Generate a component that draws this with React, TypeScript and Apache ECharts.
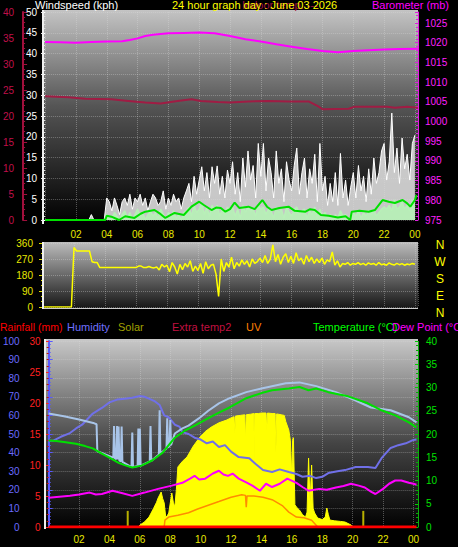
import React, { useEffect, useRef } from "react";
import * as echarts from "echarts";

// ---------- DATA ----------
const hourTicks = ["02", "04", "06", "08", "10", "12", "14", "16", "18", "20", "22", "00"];

// 10-minute samples, index i -> hour i/6
const gust10 = [
  0, 0, 0, 0, 0, 0, 0, 0, 0, 0, 0, 0, 0, 0, 0, 0, 0, 0, 1.3, 0, 0, 0, 0, 0,
  5.3, 4.4, 2.2, 5.3, 3.5, 1.3, 4.4, 5.3, 3.5, 6.2, 2.6, 5.3,
  4.4, 6.2, 3.5, 5.3, 2.2, 4.4, 6.2, 5.3, 3.5, 4.4, 7.0, 2.6,
  5.3, 3.5, 6.2, 4.4, 5.3, 2.6, 5.3, 7.0, 8.8, 4.4, 10.5, 6.2,
  9.6, 12.8, 7.0, 11.4, 5.3, 12.8, 8.8, 13.0, 6.2, 10.5, 5.3, 12.0,
  8.8, 14.0, 6.2, 11.4, 4.4, 14.9, 7.9, 16.6, 9.6, 13.1, 5.3, 18.4,
  10.5, 18.4, 7.0, 14.9, 11.4, 5.3, 16.6, 8.8, 12.3, 4.4, 14.0, 9.6,
  7.0, 13.1, 17.3, 6.2, 11.4, 14.9, 5.3, 12.3, 8.8, 15.8, 4.4, 18.4,
  7.0, 10.5, 3.5, 8.8, 4.4, 11.4, 3.5, 16.0, 5.3, 9.6, 3.5, 7.9,
  11.4, 5.3, 13.1, 7.0, 10.5, 4.4, 12.3, 6.2, 14.9, 8.8, 11.4, 16.6,
  18.4, 9.6, 14.0, 25.7, 11.4, 17.3, 8.8, 19.7, 12.3, 15.8, 9.6, 18.4,
  20.4,
];
const speed10 = [
  0, 0, 0, 0, 0, 0, 0, 0, 0, 0, 0, 0, 0, 0, 0, 0, 0, 0, 0, 0, 0, 0, 0, 0,
  1.3, 0.4, 0, 1.8, 0.9, 0, 1.3, 2.2, 0.4, 1.8, 0, 1.3,
  2.6, 0.9, 1.8, 0, 1.3, 2.2, 0.9, 1.8, 0.4, 2.6, 1.3, 0,
  1.8, 0.9, 2.2, 0.4, 1.3, 0, 1.8, 2.2, 3.1, 0.9, 3.5, 1.8,
  2.6, 4.0, 1.3, 3.1, 0.9, 3.5, 2.2, 3.5, 0.9, 2.6, 1.3, 3.1,
  2.2, 3.1, 0.9, 2.6, 0.4, 3.5, 1.8, 3.1, 2.2, 2.6, 0.9, 3.5,
  2.6, 3.1, 1.3, 2.6, 2.2, 0.4, 3.1, 1.8, 2.6, 0.4, 3.1, 1.8,
  0.9, 2.6, 3.1, 1.3, 2.2, 2.6, 0.4, 2.2, 1.3, 3.1, 0.4, 2.6,
  0.9, 1.8, 0.4, 1.3, 0, 1.3, 0.4, 2.2, 0.9, 1.3, 0, 0.9,
  1.8, 0.9, 2.2, 0.4, 1.8, 0.9, 2.2, 1.3, 2.6, 0.9, 1.8, 2.6,
  3.1, 2.6, 3.5, 2.2, 4.8, 2.6, 3.1, 4.4, 2.6, 3.5, 2.2, 4.8,
  4.4,
];
const windDir10 = [
  0, 0, 0, 0, 0, 0, 0, 0, 0, 0, 0, 0,
  335, 315, 315, 315, 315, 315, 315, 255, 250, 250, 222, 222,
  222, 222, 222, 222, 222, 222, 222, 222, 222, 222, 222, 222,
  222, 230, 230, 222, 222, 228, 222, 220, 225, 208, 240, 225,
  235, 198, 250, 225, 185, 240, 210, 245, 225, 260, 200, 230,
  205, 245, 190, 255, 215, 235, 240, 185, 60, 270, 200, 250,
  225, 280, 215, 250, 230, 265, 240, 260, 225, 270, 245, 255,
  275, 250, 290, 245, 270, 350, 255, 295, 240, 280, 300, 250,
  285, 245, 305, 260, 275, 240, 290, 255, 280, 245, 270, 250,
  275, 240, 265, 255, 310, 235, 260, 225, 245, 240, 250, 235,
  245, 240, 250, 238, 245, 235, 248, 240, 245, 235, 250, 238,
  242, 235, 248, 240, 236, 245, 238, 244, 235, 242, 238, 245,
  240,
];
// [hour, value]
const avgWind = [
  [0, 0], [3.9, 0], [4.0, 1.0], [4.3, 0.8], [4.8, 0], [5.2, 0.9], [5.8, 0.5], [6.2, 1.5], [6.5, 2.0],
  [7.1, 2.4], [7.5, 1.4], [7.8, 0.5], [8.4, 1.7], [9.0, 1.2], [9.5, 3.2], [10.0, 4.4], [10.3, 3.6],
  [10.8, 2.4], [11.1, 3.0], [11.4, 2.9], [11.7, 2.0], [12.0, 2.6], [12.3, 4.2], [12.6, 2.9], [13.2, 3.2],
  [13.6, 2.6], [14.1, 4.8], [14.4, 3.2], [14.7, 2.4], [15.2, 2.9], [15.8, 3.2], [16.2, 2.2], [16.9, 2.0],
  [17.2, 2.6], [17.5, 2.4], [17.9, 1.2], [18.4, 1.0], [19.0, 0.6], [19.5, 0.9], [19.8, 0], [19.9, 2.0],
  [20.4, 2.2], [21.0, 2.0], [21.4, 2.4], [21.9, 4.8], [22.3, 4.4], [22.7, 4.1], [23.2, 4.8], [23.5, 4.0],
  [23.7, 3.2], [24.0, 4.8], [24.1, 6.0],
];
const barometer = [
  [0, 1020.2], [1, 1020.1], [2, 1020.0], [3, 1020.2], [4, 1020.3], [5, 1020.4], [5.5, 1020.7], [6, 1021.1],
  [6.5, 1021.7], [7, 1022.0], [8, 1022.4], [9, 1022.5], [10, 1022.6], [11, 1022.4], [12, 1021.7], [13, 1020.9],
  [14, 1020.3], [15, 1019.6], [16, 1019.0], [17, 1018.4], [18, 1017.9], [19, 1017.6], [20, 1017.9],
  [21, 1018.1], [22, 1018.3], [23, 1018.4], [24.2, 1018.5],
];
const indoorTemp = [
  [0, 23.8], [1.5, 23.6], [2.6, 23.3], [4.3, 23.2], [5.4, 22.9], [6.5, 22.6], [7.5, 22.4], [8.6, 22.9],
  [9.5, 23.2], [10.1, 22.9], [11.2, 22.7], [12.0, 22.6], [13.2, 22.8], [14.5, 22.9], [15.8, 22.8],
  [17.1, 22.8], [17.7, 21.9], [18.0, 21.3], [19.7, 21.4], [20.1, 21.8], [22.2, 21.8], [22.7, 21.6],
  [23.5, 21.8], [24.2, 21.6],
];
const solar = [
  [5.9, 0], [6.0, 16], [6.3, 40], [6.6, 80], [6.9, 150], [7.1, 200], [7.2, 234], [7.4, 282], [7.5, 230],
  [7.6, 194], [7.7, 80], [7.8, 90], [7.9, 113], [8.1, 274], [8.2, 200], [8.3, 161], [8.4, 300], [8.5, 484],
  [8.8, 530], [9.1, 564], [9.5, 650], [9.9, 717], [10.3, 770], [10.7, 806], [11.2, 840], [11.7, 862],
  [12.0, 880], [12.2, 890], [12.25, 760], [12.3, 895], [12.6, 900], [12.9, 905], [12.95, 700], [13.0, 905],
  [13.3, 910], [13.5, 915], [13.52, 540], [13.56, 915], [13.8, 915], [14.0, 919], [14.3, 919], [14.35, 780],
  [14.4, 919], [14.7, 915], [14.9, 915], [14.95, 600], [15.0, 912], [15.3, 905], [15.5, 900], [15.6, 850],
  [15.8, 782], [15.9, 700], [16.0, 400], [16.05, 700], [16.1, 720], [16.2, 180], [16.3, 161], [16.5, 137],
  [16.7, 100], [16.9, 80], [17.0, 120], [17.1, 556], [17.2, 200], [17.3, 500], [17.4, 150], [17.5, 113],
  [17.7, 72], [18.0, 60], [18.2, 80], [18.3, 153], [18.4, 100], [18.5, 56], [18.8, 50], [19.2, 45],
  [19.5, 40], [19.9, 16], [20.0, 0],
];
const solarMarks = [[5.2, 130], [20.7, 130]];
const uvIndex = [
  [0, 0], [7.6, 0], [7.65, 1.1], [7.9, 1.6], [8.5, 1.9], [9.2, 2.3], [9.8, 2.9], [10.5, 3.5], [11.2, 4.1],
  [12.0, 4.8], [12.7, 5.2], [12.95, 5.1], [13.0, 3.2], [13.05, 5.0], [13.5, 5.0], [14.1, 4.8], [14.7, 4.4],
  [15.4, 3.4], [15.8, 2.4], [16.3, 1.6], [16.8, 1.5], [17.3, 1.1], [17.6, 0.3], [17.7, 0],
];
const rainfall = [[0, 0], [24.2, 0]];
const humidity = [
  [0, 46.5], [0.3, 46.4], [0.8, 48.5], [1.4, 50.5], [1.8, 53], [2.2, 55], [2.9, 61], [3.5, 64], [4.0, 67],
  [4.5, 68.5], [5.0, 69], [5.5, 69.5], [6.0, 70.4], [6.3, 70], [6.6, 69], [7.0, 67.5], [7.3, 65.6],
  [7.6, 60], [7.9, 59], [8.3, 55], [8.6, 54], [8.8, 51], [9.2, 50], [9.6, 48], [10.0, 47], [10.4, 45],
  [10.8, 46], [11.2, 43], [11.6, 44], [12.0, 40.5], [12.5, 37.6], [13.2, 37], [13.6, 34], [14.1, 30.6],
  [14.7, 29.6], [15.2, 31], [15.8, 29.6], [16.3, 28.5], [16.7, 27], [17.2, 27.5], [17.6, 26.3], [18.0, 27],
  [18.4, 29], [19.0, 30], [19.5, 30.6], [20.2, 32.3], [21.0, 32.3], [21.5, 31.7], [21.9, 37], [22.5, 42.5],
  [23.0, 44], [23.5, 45], [24.0, 46.8], [24.2, 47],
];
const feelsLike = [
  [0, 24.4], [1, 23.8], [2, 23.1], [3, 22.3], [3.15, 22.1], [3.2, 16.3], [4.25, 14.9], [4.3, 21.7],
  [4.35, 14.8], [4.45, 14.6], [4.5, 21.7], [4.55, 14.5], [4.6, 21.6], [4.65, 14.3], [4.75, 14.1],
  [4.8, 21.6], [4.85, 14.0], [5.45, 12.9], [5.5, 20.3], [5.55, 12.9], [5.85, 13.1], [5.9, 21.2],
  [5.95, 13.1], [6.0, 21.2], [6.05, 13.2], [6.65, 14.1], [6.7, 21.7], [6.75, 14.2], [7.25, 15.6],
  [7.3, 25.1], [7.35, 15.8], [7.75, 16.9], [7.8, 23.4], [7.85, 17.1], [7.95, 17.4], [8.0, 23.0],
  [8.05, 17.6], [8.3, 20.1], [8.8, 21.2], [9.2, 21.8], [9.9, 23.4], [10.5, 25.0], [11.2, 26.6],
  [11.9, 27.7], [13, 29.0], [14, 29.8], [15.6, 30.9], [16.5, 31.1], [17.6, 30.3], [18.9, 29.0],
  [20.2, 27.2], [21.2, 25.7], [22.5, 25.1], [23.7, 23.6], [24.2, 22.5],
];
const temperature = [
  [0, 18.6], [0.5, 18.5], [1, 18.3], [1.8, 17.9], [2.4, 17.4], [2.9, 16.9], [3.5, 15.8], [4.0, 14.9],
  [4.6, 13.8], [5.0, 13.3], [5.5, 12.8], [6.1, 13.2], [6.8, 14.3], [7.5, 16.0], [7.9, 17.6], [8.3, 19.2],
  [9.0, 20.8], [9.6, 21.8], [10.0, 22.5], [10.5, 23.4], [11.2, 24.6], [11.9, 25.7], [12.5, 26.8],
  [13, 27.7], [14, 28.8], [14.7, 29.4], [15.8, 29.8], [16.5, 30.1], [17.1, 29.4], [17.6, 29.8],
  [18.4, 29.0], [19.7, 28.1], [21.0, 26.6], [21.9, 25.1], [22.8, 24.0], [23.7, 22.5], [24.2, 21.4],
];
const dewPoint = [
  [0, 6.3], [0.7, 6.5], [1.4, 6.7], [2.0, 7.0], [2.7, 7.4], [3.1, 7.0], [3.5, 7.1], [4.2, 7.8], [4.8, 7.3],
  [5.5, 6.7], [6.3, 7.4], [7.2, 8.2], [8.1, 8.9], [8.8, 9.5], [9.3, 10.4], [9.6, 11.0], [9.9, 10.2],
  [10.3, 10.4], [10.8, 11.5], [11.2, 12.1], [11.5, 11.3], [11.8, 11.0], [12.1, 11.5], [12.5, 10.4],
  [13.0, 9.6], [13.4, 8.9], [13.9, 7.8], [14.3, 9.3], [14.7, 8.6], [15.2, 9.3], [15.7, 10.4], [16.3, 9.5],
  [16.7, 8.6], [17.1, 7.8], [17.8, 8.2], [18.3, 8.0], [18.9, 8.5], [19.4, 8.8], [19.9, 9.3], [20.4, 8.9],
  [20.8, 8.5], [21.2, 7.6], [21.5, 7.1], [22.0, 8.2], [22.4, 9.3], [22.8, 10.0], [23.2, 10.0], [23.7, 9.5],
  [24.0, 9.3], [24.2, 9.1],
];
const compassLetters = ["N", "W", "S", "E", "N"];

// ---------- CHART ----------
const FONT = "'Liberation Sans', Arial, sans-serif";
const toPairs = (arr: number[]) => arr.map((v, i) => [i / 6, v]);
const plain = (v: number) => String(v);

function hourLabel(v: number) {
  if (v === 0) return "";
  const i = Math.round(v / 2) - 1;
  return hourTicks[i] ?? "";
}

function gradientRect(x: number, y: number, w: number, h: number, stops: [number, string][]) {
  return {
    type: "rect",
    z: -10,
    shape: { x, y, width: w, height: h },
    style: {
      fill: new echarts.graphic.LinearGradient(
        0, 0, 0, 1,
        stops.map(([offset, color]) => ({ offset, color }))
      ),
    },
    silent: true,
  };
}

function txt(text: string, x: number, y: number, fill: string, size = 11, align = "left") {
  return {
    type: "text",
    z: 100,
    x,
    y,
    style: { text, fill, font: `${size}px ${FONT}`, textAlign: align, textVerticalAlign: "middle" },
    silent: true,
  };
}

const dotted = { show: true, lineStyle: { color: "rgba(220,220,220,0.35)", type: "dotted", width: 1 } };

function buildOption() {
  const xBase = (gridIndex: number, max: number, showLabel: boolean, margin: number) => ({
    type: "value",
    gridIndex,
    min: 0,
    max,
    interval: 2,
    axisLine: { show: false },
    axisTick: { show: false },
    axisLabel: {
      show: showLabel,
      color: "#e8e800",
      fontSize: 10,
      fontFamily: FONT,
      margin,
      showMaxLabel: false,
      showMinLabel: false,
      formatter: hourLabel,
    },
    splitLine: dotted,
  });

  return {
    animation: false,
    backgroundColor: "#000",
    textStyle: { fontFamily: FONT },
    grid: [
      { left: 43, top: 12, width: 375, height: 208 },
      { left: 43, top: 243, width: 375, height: 64 },
      { left: 46, top: 341, width: 372, height: 186 },
    ],
    xAxis: [xBase(0, 24.2, true, 9), xBase(1, 24.2, false, 4), xBase(2, 24.3, true, 7)],
    yAxis: [
      {
        type: "value", gridIndex: 0, position: "left", min: 0, max: 50, interval: 5,
        axisLine: { show: false },
        axisTick: { show: true, length: 4, lineStyle: { color: "#fff" } },
        minorTick: { show: true, splitNumber: 5, length: 2, lineStyle: { color: "#ddd" } },
        axisLabel: { color: "#fff", fontSize: 10, margin: 8, formatter: plain },
        splitLine: dotted,
      },
      {
        type: "value", gridIndex: 0, position: "left", offset: 22, min: 0, max: 40, interval: 5,
        axisLine: { show: true, lineStyle: { color: "#a0103c", width: 2 } },
        axisTick: { show: true, inside: true, length: 4, lineStyle: { color: "#a0103c" } },
        minorTick: { show: true, splitNumber: 5, length: 2, lineStyle: { color: "#a0103c" } },
        axisLabel: { color: "#c0104a", fontSize: 10, margin: 9, formatter: plain },
        splitLine: { show: false },
      },
      {
        type: "value", gridIndex: 0, position: "right", min: 975, max: 1027.8, interval: 5,
        axisLine: { show: true, lineStyle: { color: "#e020e0", width: 1 } },
        axisTick: { show: true, inside: true, length: 3, lineStyle: { color: "#e020e0" } },
        minorTick: { show: true, splitNumber: 5, length: 2, lineStyle: { color: "#e020e0" } },
        axisLabel: { color: "#ff20ff", fontSize: 10, margin: 7, showMaxLabel: false, formatter: plain },
        splitLine: { show: false },
      },
      {
        type: "value", gridIndex: 1, position: "left", min: 0, max: 360, interval: 90,
        axisLine: { show: false },
        axisTick: { show: true, length: 4, lineStyle: { color: "#e0e000" } },
        minorTick: { show: true, splitNumber: 3, length: 2, lineStyle: { color: "#e0e000" } },
        axisLabel: { color: "#e8e800", fontSize: 10, margin: 10, formatter: plain },
        splitLine: dotted,
      },
      {
        type: "value", gridIndex: 2, position: "left", offset: 21, min: 0, max: 100, interval: 10,
        axisLine: { show: true, lineStyle: { color: "#5a5aff", width: 2 } },
        axisTick: { show: true, inside: true, length: 4, lineStyle: { color: "#5a5aff" } },
        minorTick: { show: true, splitNumber: 5, length: 2, lineStyle: { color: "#5a5aff" } },
        axisLabel: { color: "#6a6aff", fontSize: 10, margin: 8, formatter: plain },
        splitLine: dotted,
      },
      {
        type: "value", gridIndex: 2, position: "left", min: 0, max: 30, interval: 5,
        axisLine: { show: false },
        axisTick: { show: true, length: 3, lineStyle: { color: "#ff2020" } },
        minorTick: { show: true, splitNumber: 5, length: 2, lineStyle: { color: "#c01010" } },
        axisLabel: { color: "#ff2020", fontSize: 10, margin: 8, formatter: plain },
        splitLine: { show: false },
      },
      {
        type: "value", gridIndex: 2, position: "right", min: 0, max: 40, interval: 5,
        axisLine: { show: true, lineStyle: { color: "#00c000", width: 1, type: "dotted" } },
        axisTick: { show: true, inside: true, length: 3, lineStyle: { color: "#00d000" } },
        minorTick: { show: true, splitNumber: 5, length: 2, lineStyle: { color: "#00b000" } },
        axisLabel: { color: "#00e000", fontSize: 10, margin: 8, formatter: plain },
        splitLine: { show: false },
      },
      { type: "value", gridIndex: 2, min: 0, max: 1500, show: false },
    ],
    series: [
      {
        type: "line", xAxisIndex: 0, yAxisIndex: 0, data: toPairs(gust10), symbol: "none",
        lineStyle: { color: "#ffffff", width: 1 },
        areaStyle: { color: "#dcdcdc", opacity: 0.9 },
      },
      {
        type: "line", xAxisIndex: 0, yAxisIndex: 0, data: toPairs(speed10), symbol: "none",
        lineStyle: { color: "#b8f0b8", width: 1.5 },
        areaStyle: { color: "#b8ecb8", opacity: 1 },
      },
      {
        type: "line", xAxisIndex: 0, yAxisIndex: 0, data: avgWind, symbol: "none",
        lineStyle: { color: "#00e000", width: 2 },
      },
      {
        type: "line", xAxisIndex: 0, yAxisIndex: 2, data: barometer, symbol: "none",
        lineStyle: { color: "#ff00ff", width: 2 },
      },
      {
        type: "line", xAxisIndex: 0, yAxisIndex: 1, data: indoorTemp, symbol: "none",
        lineStyle: { color: "#a01c44", width: 2 },
      },
      {
        type: "line", xAxisIndex: 1, yAxisIndex: 3, data: toPairs(windDir10), symbol: "none",
        lineStyle: { color: "#ffff00", width: 1.5 },
      },
      {
        type: "line", xAxisIndex: 2, yAxisIndex: 7, data: solar, symbol: "none",
        lineStyle: { color: "#ffff00", width: 1 },
        areaStyle: { color: "#ffff00", opacity: 1 },
      },
      {
        type: "bar", xAxisIndex: 2, yAxisIndex: 7, data: solarMarks, barWidth: 2,
        itemStyle: { color: "#b8b000" },
      },
      {
        type: "line", xAxisIndex: 2, yAxisIndex: 4, data: humidity, symbol: "none",
        lineStyle: { color: "#7070e8", width: 2 },
      },
      {
        type: "line", xAxisIndex: 2, yAxisIndex: 6, data: feelsLike, symbol: "none",
        lineStyle: { color: "#a8c4e8", width: 2 },
      },
      {
        type: "line", xAxisIndex: 2, yAxisIndex: 6, data: temperature, symbol: "none",
        lineStyle: { color: "#00e000", width: 2 },
      },
      {
        type: "line", xAxisIndex: 2, yAxisIndex: 6, data: dewPoint, symbol: "none",
        lineStyle: { color: "#ff00ff", width: 2 },
      },
      {
        type: "line", xAxisIndex: 2, yAxisIndex: 5, data: uvIndex, symbol: "none",
        lineStyle: { color: "#ff8c00", width: 1.5 },
      },
      {
        type: "line", xAxisIndex: 2, yAxisIndex: 5, data: rainfall, symbol: "none",
        lineStyle: { color: "#ff0000", width: 3 },
      },
    ],
    graphic: [
      gradientRect(43, 10, 375, 213, [[0, "#c4c4c4"], [0.45, "#555555"], [1, "#000000"]]),
      gradientRect(43, 242, 375, 67, [[0, "#bcbcbc"], [1, "#141414"]]),
      gradientRect(45, 339, 373, 190, [[0, "#c8c8c8"], [0.55, "#444444"], [1, "#000000"]]),
      { type: "rect", z: 50, shape: { x: 42, y: 10, width: 2, height: 214 }, style: { fill: "#f0f0f0" }, silent: true },
      { type: "rect", z: 50, shape: { x: 42, y: 242, width: 2, height: 67 }, style: { fill: "#f0f0f0" }, silent: true },
      { type: "rect", z: 50, shape: { x: 44, y: 308, width: 374, height: 1 }, style: { fill: "#cccccc" }, silent: true },
      { type: "rect", z: 50, shape: { x: 44, y: 339, width: 2, height: 190 }, style: { fill: "#f0f0f0" }, silent: true },
      txt("Indoor temp. ---", 242, 5, "#a01040"),
      txt("Windspeed (kph)", 35, 5, "#ffffff"),
      txt("24 hour graph day : June 03 2026", 172, 5, "#ffff00"),
      txt("Barometer (mb)", 372, 5, "#ff00ff"),
      ...compassLetters.map((c, i) => txt(c, 440, 245 + i * 17, "#ffff00", 12, "center")),
      txt("Rainfall (mm)", 0, 327, "#ff0000", 10.5),
      txt("Humidity", 67, 327, "#7070ff"),
      txt("Solar", 118, 327, "#a0a000"),
      txt("Extra temp2", 172, 327, "#c01040"),
      txt("UV", 246, 327, "#ff8000"),
      txt("Temperature (°C)", 313, 327, "#00ff00"),
      txt("Dew Point (°C)", 392, 327, "#ff00ff"),
    ],
  };
}

export default function App() {
  const ref = useRef<HTMLDivElement>(null);
  useEffect(() => {
    document.body.style.margin = "0";
    document.body.style.background = "#000";
    const chart = echarts.init(ref.current!, null, { renderer: "svg" });
    chart.setOption(buildOption() as any);
    return () => chart.dispose();
  }, []);
  return <div ref={ref} style={{ width: 458, height: 547, overflow: "hidden" }} />;
}
